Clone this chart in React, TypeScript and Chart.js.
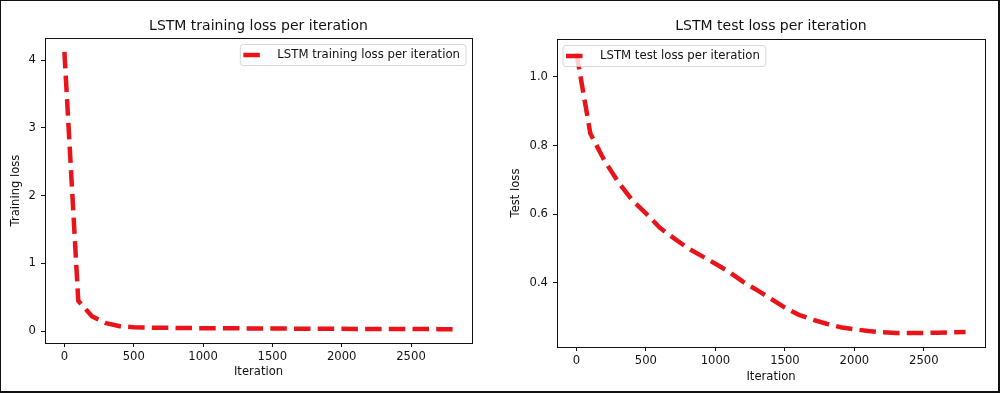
import React, { useEffect, useRef } from "react";
import { Chart, registerables } from "chart.js";

Chart.register(...registerables);

const iterations = [0, 100, 200, 300, 400, 500, 600, 700, 800, 900, 1000, 1100, 1200, 1300, 1400, 1500, 1600, 1700, 1800, 1900, 2000, 2100, 2200, 2300, 2400, 2500, 2600, 2700, 2800];
const trainLoss = [4.12, 0.45, 0.22, 0.12, 0.075, 0.06, 0.055, 0.052, 0.05, 0.048, 0.046, 0.045, 0.044, 0.043, 0.042, 0.041, 0.04, 0.039, 0.038, 0.037, 0.036, 0.035, 0.035, 0.034, 0.034, 0.033, 0.033, 0.032, 0.032];
const testLoss = [1.07, 0.835, 0.757, 0.694, 0.641, 0.602, 0.56, 0.53, 0.501, 0.478, 0.455, 0.431, 0.402, 0.378, 0.353, 0.327, 0.306, 0.292, 0.28, 0.27, 0.264, 0.259, 0.255, 0.253, 0.253, 0.253, 0.254, 0.255, 0.256];
const xTicks = [0, 500, 1000, 1500, 2000, 2500];
const trainYTicks = [0, 1, 2, 3, 4];
const testYTicks = [0.4, 0.6, 0.8, 1.0];

const FONT = "'DejaVu Sans', sans-serif";
const RED = "rgb(232,20,26)";
const LW = 4.5;
const DASH = [16.5, 7.2];

function limits(vals: number[]) {
  const mn = Math.min(...vals);
  const mx = Math.max(...vals);
  const m = (mx - mn) * 0.05;
  return [mn - m, mx + m];
}

const framePlugin = {
  id: "frame",
  afterDatasetsDraw(chart: any) {
    const { ctx, chartArea } = chart;
    ctx.save();
    ctx.strokeStyle = "#111";
    ctx.lineWidth = 1;
    ctx.strokeRect(Math.round(chartArea.left) + 0.5, Math.round(chartArea.top) + 0.5, Math.round(chartArea.right - chartArea.left), Math.round(chartArea.bottom - chartArea.top));
    ctx.restore();
  },
};

const legendPlugin = {
  id: "inlegend",
  afterDraw(chart: any, _args: any, opts: any) {
    const { ctx, chartArea } = chart;
    const ds = chart.data.datasets[0];
    ctx.save();
    ctx.font = `11.7px ${FONT}`;
    const tw = ctx.measureText(ds.label).width;
    const h = 21;
    const w = 3 + 23 + 11 + tw + 6;
    const x = opts.loc === "right" ? chartArea.right - 6 - w : chartArea.left + 6;
    const y = chartArea.top + 6.5;
    ctx.beginPath();
    ctx.roundRect(x, y, w, h, 3);
    ctx.fillStyle = "rgba(255,255,255,0.8)";
    ctx.fill();
    ctx.strokeStyle = "rgba(204,204,204,0.8)";
    ctx.lineWidth = 1;
    ctx.stroke();
    ctx.beginPath();
    ctx.setLineDash(DASH);
    ctx.lineCap = "butt";
    ctx.strokeStyle = RED;
    ctx.lineWidth = LW;
    ctx.moveTo(x + 3, y + h / 2);
    ctx.lineTo(x + 26, y + h / 2);
    ctx.stroke();
    ctx.setLineDash([]);
    ctx.fillStyle = "#111";
    ctx.textBaseline = "middle";
    ctx.textAlign = "left";
    ctx.fillText(ds.label, x + 37, y + h / 2);
    ctx.restore();
  },
};

function makeConfig(opts: {
  label: string;
  values: number[];
  title: string;
  yTitle: string;
  yTicks: number[];
  yWidth: number;
  padRight: number;
  xHeight: number;
  titlePadTop: number;
  titlePadBottom: number;
  xTitlePadBottom: number;
  decimals: number;
  legendLoc: string;
}) {
  const [ymin, ymax] = limits(opts.values);
  const [xmin, xmax] = limits(iterations);
  return {
    type: "line",
    data: {
      datasets: [
        {
          label: opts.label,
          data: iterations.map((x, i) => ({ x, y: opts.values[i] })),
          borderColor: RED,
          borderWidth: LW,
          borderDash: DASH,
          borderCapStyle: "butt",
          borderJoinStyle: "round",
          pointRadius: 0,
          tension: 0,
          fill: false,
        },
      ],
    },
    options: {
      responsive: false,
      animation: false,
      layout: { padding: { left: 0, right: opts.padRight, top: 0, bottom: 0 } },
      plugins: {
        legend: { display: false },
        tooltip: { enabled: false },
        title: {
          display: true,
          text: opts.title,
          fullSize: false,
          color: "#111",
          font: { family: FONT, size: 14, weight: "normal" },
          padding: { top: opts.titlePadTop, bottom: opts.titlePadBottom },
        },
        inlegend: { loc: opts.legendLoc },
      },
      scales: {
        x: {
          type: "linear",
          min: xmin,
          max: xmax,
          afterBuildTicks: (s: any) => {
            s.ticks = xTicks.map((v) => ({ value: v }));
          },
          afterFit: (s: any) => {
            s.height = opts.xHeight;
          },
          grid: { display: true, drawOnChartArea: false, drawTicks: true, tickLength: 4, color: "#111", tickColor: "#111" },
          border: { display: false },
          ticks: { color: "#111", font: { family: FONT, size: 11.6 }, padding: 3, maxRotation: 0, autoSkip: false, callback: (v: any) => String(v) },
          title: { display: true, text: "Iteration", color: "#111", font: { family: FONT, size: 11.6 }, padding: { top: 0, bottom: opts.xTitlePadBottom } },
        },
        y: {
          type: "linear",
          min: ymin,
          max: ymax,
          afterBuildTicks: (s: any) => {
            s.ticks = opts.yTicks.map((v) => ({ value: v }));
          },
          afterFit: (s: any) => {
            s.width = opts.yWidth;
          },
          grid: { display: true, drawOnChartArea: false, drawTicks: true, tickLength: 4, color: "#111", tickColor: "#111" },
          border: { display: false },
          ticks: { color: "#111", font: { family: FONT, size: 11.6 }, padding: 5, autoSkip: false, callback: (v: any) => Number(v).toFixed(opts.decimals) },
          title: { display: true, text: opts.yTitle, color: "#111", font: { family: FONT, size: 11.6 }, padding: { top: 9, bottom: 0 } },
        },
      },
    },
    plugins: [framePlugin, legendPlugin],
  };
}

function ChartCanvas({ config, left }: { config: any; left: number }) {
  const ref = useRef<HTMLCanvasElement | null>(null);
  useEffect(() => {
    if (!ref.current) return;
    const c = new Chart(ref.current, config);
    return () => c.destroy();
  }, [config]);
  return <canvas ref={ref} width={500} height={393} style={{ position: "absolute", left, top: 0, width: 500, height: 393 }} />;
}

const leftConfig = makeConfig({
  label: "LSTM training loss per iteration",
  values: trainLoss,
  title: "LSTM training loss per iteration",
  yTitle: "Training loss",
  yTicks: trainYTicks,
  yWidth: 45,
  padRight: 28,
  xHeight: 50,
  titlePadTop: 17.6,
  titlePadBottom: 3.6,
  xTitlePadBottom: 14.4,
  decimals: 0,
  legendLoc: "right",
});

const rightConfig = makeConfig({
  label: "LSTM test loss per iteration",
  values: testLoss,
  title: "LSTM test loss per iteration",
  yTitle: "Test loss",
  yTicks: testYTicks,
  yWidth: 57,
  padRight: 15,
  xHeight: 46,
  titlePadTop: 17.6,
  titlePadBottom: 4.6,
  xTitlePadBottom: 9.4,
  decimals: 1,
  legendLoc: "left",
});

export default function App() {
  return (
    <div style={{ position: "fixed", left: 0, top: 0, width: 1000, height: 393, background: "#fff", overflow: "hidden" }}>
      <ChartCanvas config={leftConfig} left={0} />
      <ChartCanvas config={rightConfig} left={500} />
      <div style={{ position: "absolute", left: 0, top: 0, width: 1000, height: 393, boxSizing: "border-box", borderTop: "1px solid #111", borderLeft: "1px solid #111", borderRight: "2px solid #111", borderBottom: "2px solid #111", pointerEvents: "none" }} />
    </div>
  );
}
